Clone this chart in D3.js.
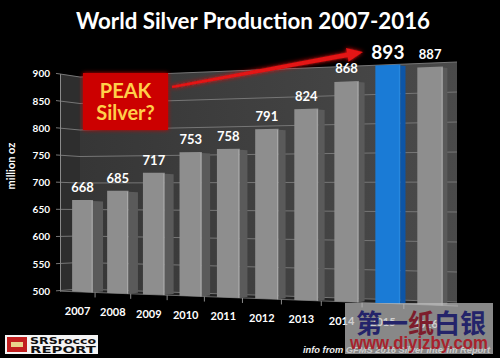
<!DOCTYPE html>
<html><head><meta charset="utf-8">
<script src="https://cdn.jsdelivr.net/npm/d3@7"></script>
<style>body{margin:0;background:#000;} svg{display:block}</style>
</head><body>
<svg id="c" width="500" height="358"></svg>
<script>
const years = ["2007","2008","2009","2010","2011","2012","2013","2014","2015","2016"];
const production = [668,685,717,753,758,791,824,868,893,887];
const yTicks = [500,550,600,650,700,750,800,850,900];
const highlightYear = "2015";
const titleText = "World Silver Production 2007-2016";
const yAxisTitle = "million oz";
const calloutLines = ["PEAK","Silver?"];
const sourceText = "info from GFMS 2016 Silver Interim Report";
const logoLines = ["SRSrocco","REPORT"];
const watermarkChars = ["第","一","纸","白","银"];
const watermarkUrl = "www.diyizby.com";

const W = 500, H = 358;
const svg = d3.select("#c");
const defs = svg.append("defs");
const glow = defs.append("filter").attr("id","glow").attr("x","-20%").attr("y","-40%").attr("width","140%").attr("height","180%");
glow.append("feGaussianBlur").attr("in","SourceGraphic").attr("stdDeviation",2).attr("result","b");
const fm = glow.append("feMerge");
fm.append("feMergeNode").attr("in","b");
fm.append("feMergeNode").attr("in","SourceGraphic");
const wallGrad = defs.append("linearGradient").attr("id","wallG").attr("x1","0").attr("x2","1").attr("y1","0").attr("y2","0");
wallGrad.append("stop").attr("offset","0").attr("stop-color","#363636");
wallGrad.append("stop").attr("offset","1").attr("stop-color","#4a4a4a");

svg.append("rect").attr("width",W).attr("height",H).attr("fill","#000");

// ---- perspective scales ----
const q = 1.12;
const band = d3.scaleBand().domain(years).range([0,1]).paddingInner(0.4).paddingOuter(0.2);
const persp = d3.scaleLinear().domain([0,1]).range([65.2, 451.6]);
const px = u => persp(u / (u + q * (1 - u)));
const baseAt = d3.scaleLinear().domain([82.5,430]).range([292,305]);
const unitAt = d3.scaleLinear().domain([82.5,430]).range([0.548,0.615]);
const yAt = x => d3.scaleLinear().domain([500,900]).range([baseAt(x), baseAt(x) - 400 * unitAt(x)]);
const yA = yAt(60);
const wallX0 = 80, wallX1 = 457;
const wallL = d3.scaleLinear().domain([500,900]).range([289,77]);
const wallR = d3.scaleLinear().domain([500,900]).range([302,62]);
const lo = yTicks[0], hi = yTicks[yTicks.length-1];

// ---- walls ----
svg.append("polygon").attr("points",[[60,yA(hi)],[wallX0,wallL(hi)],[wallX0,wallL(lo)],[60,yA(lo)]].join(" "))
  .attr("fill","#2e2e2e");
svg.append("polygon").attr("points",[[wallX0,wallL(hi)],[wallX1,wallR(hi)],[wallX1,wallR(lo)],[wallX0,wallL(lo)]].join(" "))
  .attr("fill","url(#wallG)");
svg.append("polygon").attr("points",[[60,yA(lo)],[wallX0,wallL(lo)],[wallX1,wallR(lo)],[458,baseAt(458)]].join(" "))
  .attr("fill","#222");

const grid = svg.append("g").attr("stroke","#767676").attr("stroke-width",1).attr("fill","none");
yTicks.forEach(v => {
  grid.append("line").attr("x1",wallX0).attr("y1",wallL(v)).attr("x2",wallX1).attr("y2",wallR(v));
  grid.append("line").attr("x1",56).attr("y1",yA(v) - 0.3).attr("x2",wallX0).attr("y2",wallL(v));
});

// ---- axis ----
const axis = svg.append("g").attr("transform","translate(60,0)")
  .call(d3.axisLeft(yA).tickValues(yTicks).tickSize(0).tickPadding(10));
axis.select(".domain").attr("stroke","#8a8a8a");
axis.selectAll("text").attr("fill","#fff").attr("font-family","Lato, 'Open Sans', sans-serif")
  .attr("font-weight","bold").attr("font-size",10);

// front baseline
svg.append("line").attr("x1",60).attr("y1",yA(lo)).attr("x2",458).attr("y2",baseAt(458))
  .attr("stroke","#6a6a6a").attr("stroke-width",1);

// ---- bars ----
const sideW = d3.scaleLinear().domain([72,443]).range([10,4]);
const data = years.map((y,i) => ({year:y, value:production[i]}));
const bars = svg.append("g");
data.forEach(d => {
  const u0 = band(d.year), u1 = u0 + band.bandwidth();
  const x0 = px(u0), x1 = px(u1);
  const y0 = yAt(x0), y1 = yAt(x1);
  const hl = d.year === highlightYear;
  const sw = sideW(x0);
  bars.append("polygon")
    .attr("points",[[x1,y1(d.value)+1],[x1+sw,y1(d.value)+1.5],[x1+sw,y1(lo)-1],[x1,y1(lo)]].join(" "))
    .attr("fill", hl ? "#0d55a6" : "#5a5a5a");
  bars.append("polygon")
    .attr("points",[[x0,y0(d.value)],[x1,y1(d.value)],[x1,y1(lo)],[x0,y0(lo)]].join(" "))
    .attr("fill", hl ? "#1a7bd6" : "#8e8e8e");
  bars.append("line").attr("x1",x1-1).attr("y1",y1(d.value)+1).attr("x2",x1-1).attr("y2",y1(lo))
    .attr("stroke", hl ? "#2a8ae0" : "#a8a8a8").attr("stroke-width",1);
  const xc = (x0+x1)/2, yc = yAt(xc);
  svg.append("text").attr("x",xc).attr("y",yc(d.value) - (hl ? 6 : 8))
    .attr("text-anchor","middle").attr("fill","#fff")
    .attr("font-family","Lato, 'Open Sans', sans-serif").attr("font-weight","bold")
    .attr("font-size", hl ? 19 : 13).text(d.value);
  svg.append("text").attr("x",xc-5).attr("y",baseAt(xc)+23)
    .attr("text-anchor","middle").attr("fill","#fff")
    .attr("font-family","Lato, 'Open Sans', sans-serif").attr("font-weight","bold")
    .attr("font-size",11).text(d.year);
});
// category separators
years.slice(1).forEach(y => {
  const ub = band(y) - band.step()*band.paddingInner()/2;
  const xb = px(ub) - 5;
  svg.append("line").attr("x1",xb).attr("y1",baseAt(xb)).attr("x2",xb).attr("y2",baseAt(xb)+5)
    .attr("stroke","#8a8a8a").attr("stroke-width",1);
});

// ---- title ----
svg.append("text").attr("x",253).attr("y",29).attr("text-anchor","middle").attr("fill","#fff")
  .attr("font-family","Lato, 'Open Sans', sans-serif").attr("font-weight","bold").attr("font-size",22.3)
  .text(titleText);

// y axis title
svg.append("text").attr("transform","translate(15,166) rotate(-90)").attr("text-anchor","middle")
  .attr("fill","#fff").attr("font-family","Lato, 'Open Sans', sans-serif").attr("font-weight","bold")
  .attr("font-size",11).text(yAxisTitle);

// ---- callout ----
svg.append("rect").attr("x",83).attr("y",73).attr("width",85).attr("height",57)
  .attr("fill","#cc0000").attr("filter","url(#glow)");
calloutLines.forEach((t,i) => {
  svg.append("text").attr("x",125.5).attr("y",[98,120][i]).attr("text-anchor","middle")
    .attr("fill","#ffcf4a").attr("font-family","Lato, 'Open Sans', sans-serif").attr("font-weight","bold")
    .attr("font-size",20).text(t);
});

// ---- arrow ----
(function(){
  const a = [172,87], b = [363,52];
  const dx = b[0]-a[0], dy = b[1]-a[1], L = Math.hypot(dx,dy);
  const ux = dx/L, uy = dy/L, nx = -uy, ny = ux;
  const hb = [b[0]-ux*16, b[1]-uy*16];
  const pts = [
    [a[0]+nx*1.2, a[1]+ny*1.2],[hb[0]+nx*2.3, hb[1]+ny*2.3],[hb[0]+nx*7, hb[1]+ny*7],b,
    [hb[0]-nx*7, hb[1]-ny*7],[hb[0]-nx*2.3, hb[1]-ny*2.3],[a[0]-nx*1.2, a[1]-ny*1.2]];
  svg.append("polygon").attr("points",pts.join(" ")).attr("fill","#e31212").attr("filter","url(#glow)");
})();

// ---- logo ----
svg.append("rect").attr("x",5).attr("y",335).attr("width",93).attr("height",19).attr("fill","#f4f4f4");
svg.append("rect").attr("x",7).attr("y",337).attr("width",20).attr("height",15).attr("fill","#c21f1f");
svg.append("rect").attr("x",11).attr("y",342).attr("width",12).attr("height",5).attr("fill","#e9d48c");
svg.append("text").attr("x",30).attr("y",344).attr("fill","#111").attr("font-family","'DejaVu Sans', sans-serif")
  .attr("font-weight","bold").attr("font-size",8).attr("textLength",66).attr("lengthAdjust","spacingAndGlyphs").text(logoLines[0]);
svg.append("text").attr("x",30).attr("y",353).attr("fill","#111").attr("font-family","'DejaVu Sans', sans-serif")
  .attr("font-weight","bold").attr("font-size",9.5).attr("textLength",66).attr("lengthAdjust","spacingAndGlyphs").text(logoLines[1]);

// ---- source ----
svg.append("text").attr("x",490).attr("y",353).attr("text-anchor","end").attr("fill","#eee")
  .attr("font-family","'Liberation Sans', sans-serif").attr("font-style","italic").attr("font-weight","bold")
  .attr("font-size",9.5).attr("textLength",187).attr("lengthAdjust","spacingAndGlyphs").text(sourceText);

// ---- watermark ----
svg.append("rect").attr("x",345).attr("y",303).attr("width",148).attr("height",51)
  .attr("fill","#bdbdbd").attr("opacity",0.72);
const wm = svg.append("text").attr("x",356).attr("y",333).attr("font-family","'Noto Sans CJK SC', sans-serif")
  .attr("font-weight","bold").attr("font-size",26).attr("fill","#24246a");
watermarkChars.forEach((c,i) => wm.append("tspan").attr("fill", i===2 ? "#7d1d2c" : "#24246a").text(c));
svg.append("text").attr("x",350).attr("y",349).attr("fill","#a8222c").attr("font-family","'Liberation Sans', sans-serif")
  .attr("font-weight","bold").attr("font-size",18).attr("textLength",138).attr("lengthAdjust","spacingAndGlyphs").text(watermarkUrl);
</script>
</body></html>
